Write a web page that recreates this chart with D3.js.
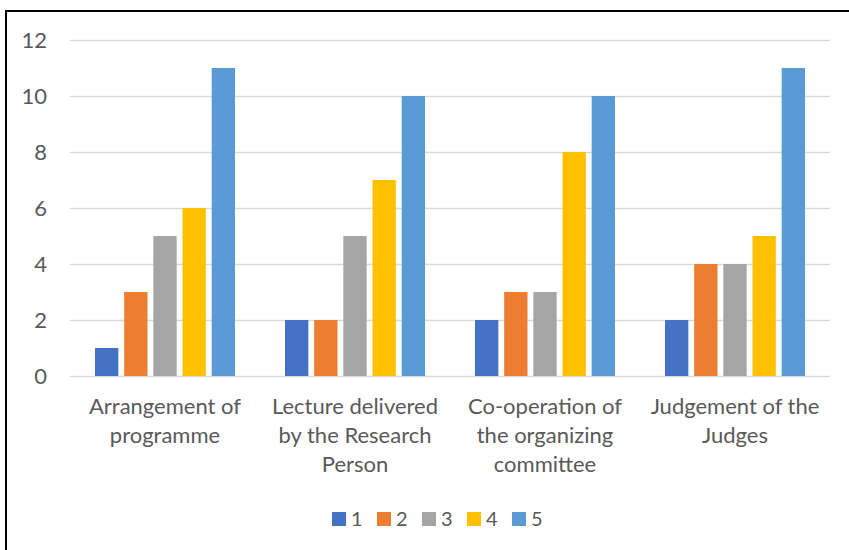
<!DOCTYPE html>
<html>
<head>
<meta charset="utf-8">
<script src="https://cdn.jsdelivr.net/npm/d3@7"></script>
<style>
  body { margin: 0; background: #fff; }
  text { font-family: Lato, "Open Sans", sans-serif; fill: #595959; }
</style>
</head>
<body>
<div id="chart"></div>
<script>
// data
var categories = [
  ["Arrangement of", "programme"],
  ["Lecture delivered", "by the Research", "Person"],
  ["Co-operation of", "the organizing", "committee"],
  ["Judgement of the", "Judges"]
];
var seriesNames = ["1", "2", "3", "4", "5"];
var values = [
  [1, 3, 5, 6, 11],
  [2, 2, 5, 7, 10],
  [2, 3, 3, 8, 10],
  [2, 4, 4, 5, 11]
];
var yTicks = [0, 2, 4, 6, 8, 10, 12];
var colors = ["#4472C4", "#ED7D31", "#A5A5A5", "#FFC000", "#5B9BD5"];

var W = 849, H = 550;
var margin = { top: 40, right: 19, bottom: 174, left: 70 },
  width = W - margin.left - margin.right,
  height = H - margin.top - margin.bottom;

var root = d3.select("#chart").append("svg")
  .attr("width", W)
  .attr("height", H);

// outer frame (only top and left edges are visible)
root.append("line").attr("x1", 5).attr("x2", W).attr("y1", 11).attr("y2", 11)
  .attr("stroke", "#000").attr("stroke-width", 2);
root.append("line").attr("x1", 6).attr("x2", 6).attr("y1", 10).attr("y2", H)
  .attr("stroke", "#000").attr("stroke-width", 2);

var svg = root.append("g")
  .attr("transform", "translate(" + margin.left + "," + margin.top + ")");

var idx = d3.range(categories.length);
var x0 = d3.scaleBand().domain(idx).range([0, width]);
var x1 = d3.scaleBand().domain(seriesNames)
  .range([25, x0.bandwidth() - 25]).paddingInner(0.2);
var y = d3.scaleLinear().domain([0, 12]).range([height, 0]);

// gridlines
svg.selectAll(".grid").data(yTicks).enter().append("line")
  .attr("x1", 0).attr("x2", width)
  .attr("y1", function (d) { return y(d) + 0.5; })
  .attr("y2", function (d) { return y(d) + 0.5; })
  .attr("stroke", "#d9d9d9").attr("stroke-width", 1.3);

// y labels
svg.selectAll(".ylab").data(yTicks).enter().append("text")
  .attr("x", -23).attr("y", function (d) { return y(d); })
  .attr("dy", "0.36em")
  .attr("text-anchor", "end")
  .style("font-size", "22px")
  .text(function (d) { return d; });

// bars
var groups = svg.selectAll(".grp").data(idx).enter().append("g")
  .attr("transform", function (i) { return "translate(" + x0(i) + ",0)"; });

groups.selectAll("rect")
  .data(function (i) {
    return values[i].map(function (v, j) { return { s: seriesNames[j], v: v, c: colors[j] }; });
  })
  .enter().append("rect")
  .attr("x", function (d) { return x1(d.s); })
  .attr("width", x1.bandwidth())
  .attr("y", function (d) { return y(d.v); })
  .attr("height", function (d) { return height - y(d.v); })
  .attr("fill", function (d) { return d.c; });

// category labels
groups.append("text")
  .attr("text-anchor", "middle")
  .style("font-size", "22px")
  .selectAll("tspan")
  .data(function (i) { return categories[i]; })
  .enter().append("tspan")
  .attr("x", x0.bandwidth() / 2)
  .attr("y", function (d, k) { return height + 38 + k * 29; })
  .text(function (d) { return d; });

// legend
var legend = root.append("g").attr("transform", "translate(332,512)");
var item = legend.selectAll(".leg").data(seriesNames).enter().append("g")
  .attr("transform", function (d, i) { return "translate(" + i * 45 + ",0)"; });
item.append("rect").attr("width", 14).attr("height", 14)
  .attr("fill", function (d, i) { return colors[i]; });
item.append("text").attr("x", 19).attr("y", 7).attr("dy", "0.36em")
  .style("font-size", "20px")
  .text(function (d) { return d; });
</script>
</body>
</html>
